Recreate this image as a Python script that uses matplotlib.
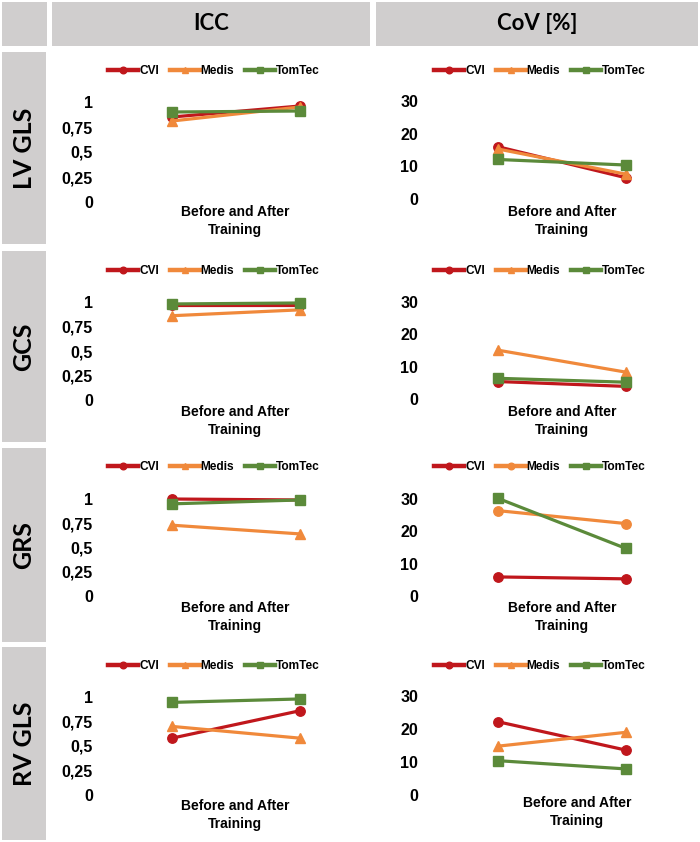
import matplotlib
matplotlib.use("Agg")
import matplotlib.pyplot as plt
from matplotlib.patches import Rectangle

# ---------------- data ----------------
rows = ["LV GLS", "GCS", "GRS", "RV GLS"]
columns = ["ICC", "CoV [%]"]
series = ["CVI", "Medis", "TomTec"]
xlabel = "Before and After\nTraining"

icc_cvi = [[0.85, 0.96], [0.97, 0.97], [1.00, 0.99], [0.58, 0.86]]
icc_medis = [[0.81, 0.95], [0.86, 0.92], [0.73, 0.64], [0.70, 0.58]]
icc_tomtec = [[0.90, 0.91], [0.98, 0.99], [0.95, 0.99], [0.945, 0.98]]

cov_cvi = [[16.0, 6.5], [5.4, 3.9], [5.9, 5.3], [22.2, 13.6]]
cov_medis = [[15.3, 7.6], [15.1, 8.3], [26.4, 22.4], [14.8, 19.0]]
cov_tomtec = [[12.1, 10.4], [6.4, 5.2], [30.2, 14.7], [10.4, 7.9]]

icc_ticks = [0, 0.25, 0.5, 0.75, 1]
icc_ticklabels = ["0", "0,25", "0,5", "0,75", "1"]
cov_ticks = [0, 10, 20, 30]
cov_ticklabels = ["0", "10", "20", "30"]

# ---------------- style ----------------
colors = {"CVI": "#C0171C", "Medis": "#F0893B", "TomTec": "#5B8A3A"}
markers = {"CVI": "o", "Medis": "^", "TomTec": "s"}
GRAY = "#D0CECE"
W, H = 700, 842

fig = plt.figure(figsize=(7, 8.42), dpi=100)


def fx(x):
    return x / W


def fy(y):
    return 1 - y / H


def rect(x0, y0, x1, y1):
    fig.patches.append(Rectangle((fx(x0), fy(y1)), fx(x1) - fx(x0), fy(y0) - fy(y1),
                                 transform=fig.transFigure, facecolor=GRAY,
                                 edgecolor="none", zorder=0))


# header boxes
rect(2, 2, 47, 46)
rect(52, 2, 370, 46)
rect(376, 2, 698, 46)
fig.text(fx(211), fy(24), columns[0], ha="center", va="center",
         fontsize=16, fontweight="bold", family="Lato")
fig.text(fx(537), fy(24), columns[1], ha="center", va="center",
         fontsize=16, fontweight="bold", family="Lato")

# row label boxes
row_boxes = [(52, 244), (251, 442), (448, 642), (647, 840)]
for name, (y0, y1) in zip(rows, row_boxes):
    rect(2, y0, 46, y1)
    fig.text(fx(24), fy((y0 + y1) / 2), name, ha="center", va="center",
             rotation=90, fontsize=18, fontweight="bold", family="Lato")

# panel geometry (pixels)
icc_zero = [202, 400, 596, 795]
icc_top = [102, 302, 499, 697]
cov_zero = [199, 399, 596, 795]
cov_top = [101, 302, 499, 696]
legend_y = [71, 271, 467, 666]
label_y = [[205, 205], [405, 405], [601, 601], [799, 796]]
label_x = [[235, 562], [235, 562], [235, 562], [235, 577]]

panels = [
    dict(col=0, left=100, right=365, p0=172, p1=300, leg_cx=214,
         data=[icc_cvi, icc_medis, icc_tomtec], zero=icc_zero, top=icc_top,
         ymax=1.0, ticks=icc_ticks, ticklabels=icc_ticklabels),
    dict(col=1, left=425, right=695, p0=498, p1=626, leg_cx=540,
         data=[cov_cvi, cov_medis, cov_tomtec], zero=cov_zero, top=cov_top,
         ymax=30.0, ticks=cov_ticks, ticklabels=cov_ticklabels),
]

for r in range(len(rows)):
    for p in panels:
        y_top = p["top"][r]
        y_zero = p["zero"][r]
        ax = fig.add_axes([fx(p["left"]), fy(y_zero), fx(p["right"]) - fx(p["left"]),
                           fy(y_top) - fy(y_zero)])
        scale = p["p1"] - p["p0"]
        ax.set_xlim((p["left"] - p["p0"]) / scale, (p["right"] - p["p0"]) / scale)
        ax.set_ylim(0, p["ymax"])
        ax.patch.set_alpha(0)
        for s in ax.spines.values():
            s.set_visible(False)
        ax.set_xticks([])
        ax.set_yticks(p["ticks"])
        ax.set_yticklabels(p["ticklabels"], fontsize=11.5, fontweight="bold",
                           family="Liberation Sans")
        ax.tick_params(axis="y", length=0, pad=5)
        for name, vals in zip(series, p["data"]):
            mk = markers[name]
            if p["col"] == 1 and r == 2 and name == "Medis":
                mk = "o"
            ax.plot([0, 1], vals[r], color=colors[name], lw=2.3, marker=mk,
                    markersize=6.8, label=name, clip_on=False)
        leg = ax.legend(loc="center", bbox_to_anchor=(fx(p["leg_cx"]), fy(legend_y[r])),
                        bbox_transform=fig.transFigure, ncol=3, frameon=False,
                        handlelength=2.5, handletextpad=0.1, columnspacing=0.9,
                        markerscale=0.7,
                        prop=dict(family="Liberation Sans", weight="bold", size=8.6))
        for ln in leg.get_lines():
            ln.set_linewidth(3.2)
        fig.text(fx(label_x[r][p["col"]]), fy(label_y[r][p["col"]]), xlabel,
                 ha="center", va="top", fontsize=10, fontweight="bold",
                 family="Liberation Sans", linespacing=1.4)

fig.savefig("out.png", dpi=100)
